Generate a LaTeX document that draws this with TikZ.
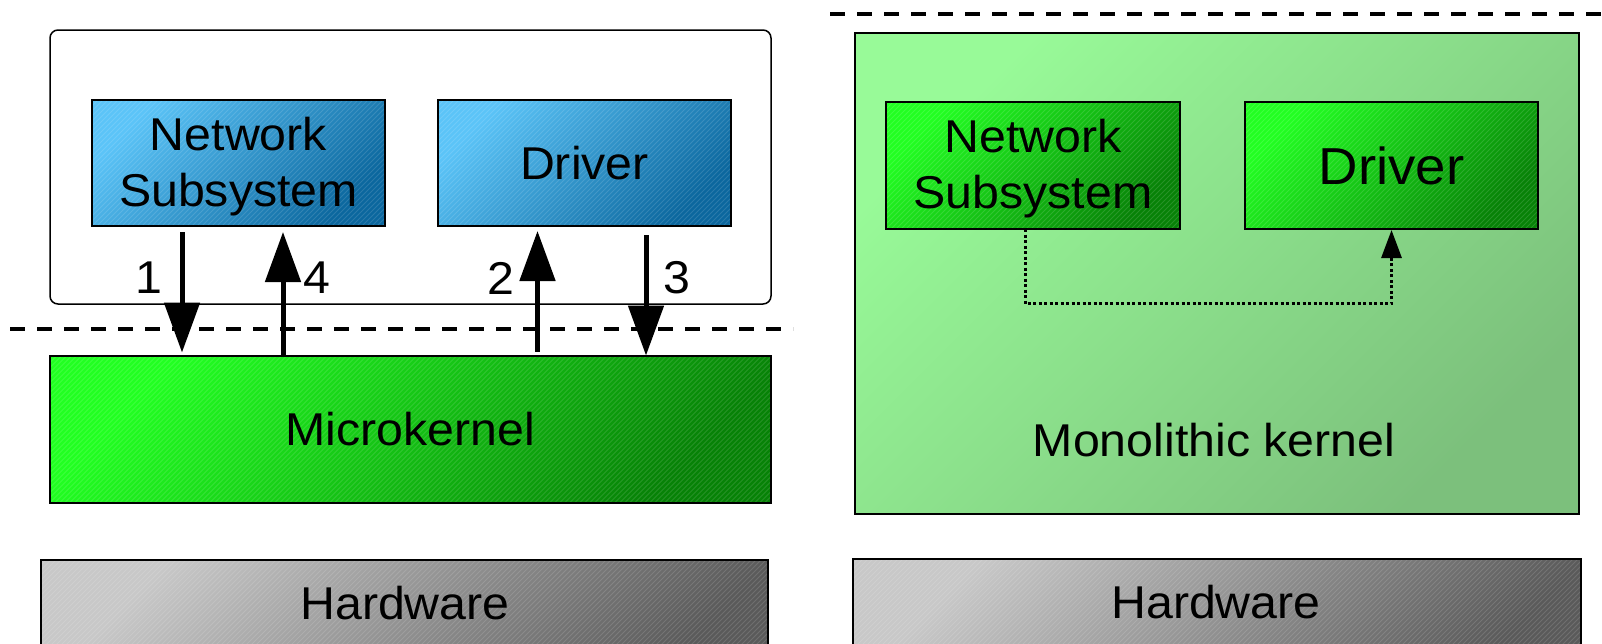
\documentclass[tikz,border=0pt]{standalone}
\usepackage{fontspec}
\setmainfont{Liberation Sans}[FakeStretch=1.05]
\usetikzlibrary{arrows.meta,calc}

\definecolor{bluelight}{HTML}{5BC4F8}
\definecolor{bluedark}{HTML}{0B679E}
\definecolor{greenlight}{HTML}{22FF22}
\definecolor{greendark}{HTML}{078207}
\definecolor{graylight}{HTML}{C8C8C8}
\definecolor{graydark}{HTML}{5A5A5A}
\definecolor{monolight}{HTML}{98FA98}
\definecolor{monodark}{HTML}{7CC07C}

\begin{document}
\begin{tikzpicture}[x=1pt,y=-1pt,
  every node/.style={inner sep=0pt, outer sep=0pt},
  txt/.style={font=\fontsize{46}{56}\selectfont, align=center},
  hatchline/.style={draw=white, line width=1pt, opacity=0.13},
  hatch/.style={path picture={
      \foreach \k in {-200,-195,...,760}
        \draw[hatchline] ([xshift=\k pt]path picture bounding box.south west) -- ++(200pt,200pt);}},
  layer/.style 2 args={draw=black, line width=2pt, top color=#1, bottom color=#2,
      shading angle=45, anchor=north west, txt},
  bluebox/.style={layer={bluelight}{bluedark}, hatch},
  greenbox/.style={layer={greenlight}{greendark}, hatch},
  graybox/.style={layer={graylight}{graydark}, hatch},
  monobox/.style={layer={monolight}{monodark}},
  userspace/.style={draw=black, line width=1.5pt, rounded corners=8pt, anchor=north west},
  sepline/.style={line width=4pt, dash pattern=on 15pt off 12pt},
  callarrow/.style={line width=5pt, -{Triangle[width=35pt,length=50pt]}},
  directcall/.style={line width=3pt, dash pattern=on 3pt off 2.5pt,
      -{Triangle[width=20pt,length=28pt]}},
  num/.style={txt}
]
\useasboundingbox (0,0) rectangle (1602,643);

% ---------------- microkernel side ----------------
\node[userspace, minimum width=721pt, minimum height=274pt] (user) at (50,30) {};
\node[bluebox, minimum width=293pt, minimum height=126pt] (lns) at (92,100) {};
\node[txt] (lnst) at ($(lns.center)+(0,4)$) {Network\\Subsystem};
\node[bluebox, minimum width=293pt, minimum height=126pt] (ldrv) at (438,100) {Driver};
\node[greenbox, minimum width=721pt, minimum height=147pt] (mk) at (50,355.5) {Microkernel};
\node[graybox, minimum width=727pt, minimum height=130pt] (lhw) at (41,560) {};
\node[txt] (lhwt) at (405,603) {Hardware};

\coordinate (lsepA) at (10,329);
\coordinate (lsepB) at (793,329);
\draw[sepline] (lsepA) -- (lsepB);

% IPC round trip through the kernel
\coordinate (a1s) at ($(lns.south west)+(90,6)$);
\coordinate (a4e) at ($(lns.south west)+(191,6)$);
\coordinate (a2e) at ($(ldrv.south west)+(99.5,5)$);
\coordinate (a3s) at ($(ldrv.south west)+(208,9)$);
\draw[callarrow] (a1s) -- ($(a1s|-mk.north)+(0,-3)$);
\draw[callarrow] (a4e|-mk.north) -- (a4e);
\draw[callarrow] ($(a2e|-mk.north)+(0,-4)$) -- (a2e);
\draw[callarrow] (a3s) -- (a3s|-mk.north);

\node[num] (n1) at (149,278) {1};
\node[num] (n4) at (317,278) {4};
\node[num] (n2) at (501,278) {2};
\node[num] (n3) at (677,278) {3};

% ---------------- monolithic side ----------------
\coordinate (rsepA) at (830,14);
\coordinate (rsepB) at (1602,14);
\draw[sepline] (rsepA) -- (rsepB);

\node[monobox, minimum width=724pt, minimum height=481pt] (mono) at (855,33) {};
\node[greenbox, minimum width=294pt, minimum height=127pt] (rns) at (886,102) {};
\node[txt] (rnst) at ($(rns.center)+(0,3)$) {Network\\Subsystem};
\node[greenbox, minimum width=293pt, minimum height=127pt, font=\fontsize{52}{60}\selectfont] (rdrv) at (1245,102) {Driver};
\node[txt] (monot) at (1214,440) {Monolithic kernel};

\coordinate (dcs) at ($(rns.south west)+(139,0)$);
\coordinate (dce) at ($(rdrv.south west)+(146.5,1)$);
\draw[directcall] (dcs) -- ++(0,74.5) -| (dce);

\node[graybox, minimum width=728pt, minimum height=130pt] (rhw) at (853,559) {};
\node[txt] (rhwt) at (1216,602) {Hardware};
\end{tikzpicture}
\end{document}
